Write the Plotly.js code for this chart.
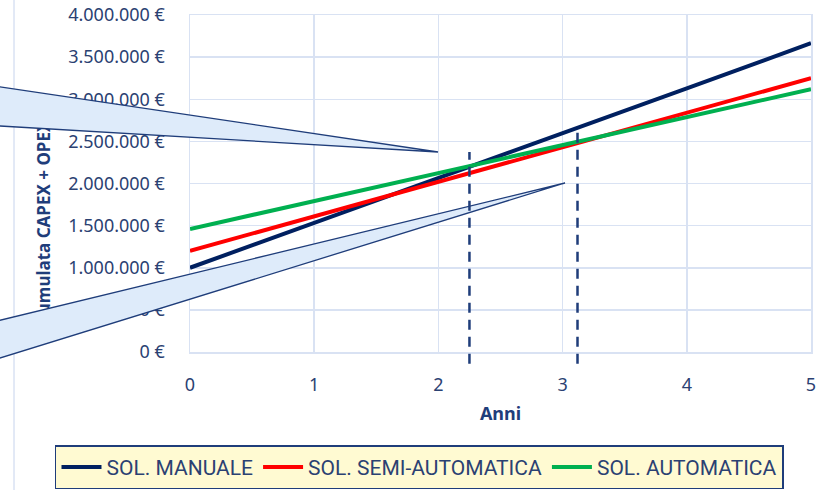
<!DOCTYPE html>
<html>
<head>
<meta charset="utf-8">
<script src="https://cdn.plot.ly/plotly-3.0.1.min.js"></script>
<style>
  html, body { margin: 0; padding: 0; background: #ffffff; }
  #chart { width: 833px; height: 490px; }
</style>
</head>
<body>
<div id="chart"></div>
<script>
// ---- data ----
const years = [0, 1, 2, 3, 4, 5];
const seriesNames = ["SOL. MANUALE", "SOL. SEMI-AUTOMATICA", "SOL. AUTOMATICA"];
const manuale = [1000000, 1530000, 2065000, 2600000, 3130000, 3665000];
const semiAutomatica = [1200000, 1610000, 2020000, 2430000, 2840000, 3250000];
const automatica = [1460000, 1790000, 2120000, 2455000, 2790000, 3120000];
const breakEvenYears = [2.25, 3.12];
const breakEvenTops = [2375000, 2640000];
const yRange = [0, 4000000];
const xRange = [0, 5];
const xTitle = "Anni";
const yTitle = "Cumulata CAPEX + OPEX";

// ---- style ----
const colors = ["#002060", "#FF0000", "#00B050"];
const textColor = "#2B4172";
const gridColor = "#D9E2F3";
const navy = "#1F3D7A";
const fontFamily = "'Noto Sans', 'Open Sans', sans-serif";

const values = [manuale, semiAutomatica, automatica];
const traces = values.map((v, i) => ({
  type: "scatter",
  mode: "lines",
  x: years,
  y: v,
  name: seriesNames[i],
  line: { color: colors[i], width: 4 },
  hoverinfo: "skip"
}));

function paperY(v) { return (v - yRange[0]) / (yRange[1] - yRange[0]); }

const shapes = [];
// left border line of the chart area
shapes.push({
  type: "line", xref: "paper", yref: "paper",
  x0: -0.2834, x1: -0.2834, y0: -0.5, y1: 1.2,
  line: { color: gridColor, width: 1.5 }, layer: "above"
});
// y axis title (drawn as a shape label so the callouts can cover it)
shapes.push({
  type: "line", xref: "paper", yref: "paper",
  x0: -0.235, x1: -0.235, y0: 0.283, y1: 0.483,
  line: { color: "rgba(0,0,0,0)", width: 0 }, layer: "above",
  label: {
    text: "<b>" + yTitle + "</b>", textangle: -90,
    textposition: "middle", xanchor: "center", yanchor: "middle", padding: 0,
    font: { family: fontFamily, size: 17, color: "#1F3D7A" }
  }
});
// callouts
shapes.push({
  type: "path", xref: "paper", yref: "paper", layer: "above",
  path: "M -0.3865 0.8086 L 0.3994 0.5935 L -0.3865 0.6795 Z",
  fillcolor: "#DEEBFA", line: { color: navy, width: 1.3 }
});
shapes.push({
  type: "path", xref: "paper", yref: "paper", layer: "above",
  path: "M -0.3865 0.0582 L 0.6039 0.5015 L -0.3865 -0.0638 Z",
  fillcolor: "#DEEBFA", line: { color: navy, width: 1.3 }
});
// break-even dashed lines
breakEvenYears.forEach((bx, i) => {
  shapes.push({
    type: "line", xref: "x", yref: "paper", layer: "above",
    x0: bx, x1: bx, y0: -0.035, y1: paperY(breakEvenTops[i]),
    line: { color: navy, width: 2.5, dash: "10px,7px" }
  });
});

const layout = {
  width: 833, height: 490,
  margin: { l: 190, r: 22, t: 15, b: 138, autoexpand: false },
  paper_bgcolor: "#ffffff", plot_bgcolor: "#ffffff",
  separators: ",.",
  font: { family: fontFamily, color: textColor, size: 18 },
  showlegend: true,
  legend: {
    orientation: "h", xref: "paper", yref: "paper",
    x: -0.2174, xanchor: "left", y: -0.277, yanchor: "top",
    bgcolor: "#FFFAD2", bordercolor: navy, borderwidth: 1.5,
    font: { family: "Roboto, sans-serif", size: 21, color: textColor },
    itemwidth: 40, tracegroupgap: 0
  },
  xaxis: {
    range: xRange, dtick: 1, tick0: 0,
    showgrid: true, gridcolor: gridColor, gridwidth: 1.5,
    zeroline: false, showline: true, linecolor: gridColor, linewidth: 1.5, mirror: true,
    ticks: "", ticklabelstandoff: 16,
    tickfont: { size: 18, color: textColor },
    title: { text: "<b>" + xTitle + "</b>", font: { size: 18, color: "#1F3D7A" }, standoff: 12 },
    fixedrange: true
  },
  yaxis: {
    range: yRange, dtick: 500000, tick0: 0,
    tickformat: ",.0f", ticksuffix: " €",
    showgrid: true, gridcolor: gridColor, gridwidth: 1.5,
    zeroline: false, showline: true, linecolor: gridColor, linewidth: 1.5, mirror: true,
    ticks: "", ticklabelstandoff: 20,
    tickfont: { size: 18, color: textColor },
    fixedrange: true
  },
  shapes: shapes
};

Plotly.newPlot("chart", traces, layout, { displayModeBar: false, staticPlot: true });
</script>
</body>
</html>
